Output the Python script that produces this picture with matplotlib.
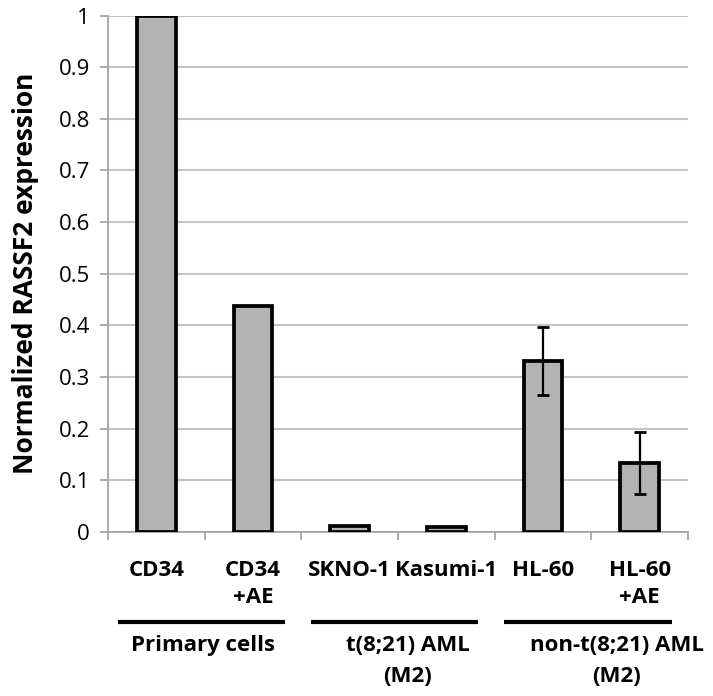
import numpy as np
import matplotlib.pyplot as plt
import matplotlib.transforms as mtransforms

# values
categories = ["CD34", "CD34\n+AE", "SKNO-1", "Kasumi-1", "HL-60", "HL-60\n+AE"]
expression = [1.0, 0.438, 0.012, 0.009, 0.331, 0.134]
errors = [0, 0, 0, 0, 0.066, 0.06]
has_err = [False, False, False, False, True, True]

groups = ["Primary cells", "t(8;21) AML\n(M2)", "non-t(8;21) AML\n(M2)"]
group_members = [(0, 1), (2, 3), (4, 5)]

yticks = [0, 0.1, 0.2, 0.3, 0.4, 0.5, 0.6, 0.7, 0.8, 0.9, 1]
ytick_labels = ["0", "0.1", "0.2", "0.3", "0.4", "0.5", "0.6", "0.7", "0.8", "0.9", "1"]

plt.rcParams['font.family'] = ['Open Sans', 'DejaVu Sans']

fig = plt.figure(figsize=(7.13, 6.96), dpi=100)
ax = fig.add_axes([0.1515, 0.2356, 0.8135, 0.7421])

x = np.arange(len(categories))
ax.bar(x, expression, width=0.4, color="#b3b3b3", edgecolor="black", linewidth=2.7, zorder=3)

err_x = [xi for xi, h in zip(x, has_err) if h]
err_y = [v for v, h in zip(expression, has_err) if h]
err_v = [e for e, h in zip(errors, has_err) if h]
ax.errorbar(err_x, err_y, yerr=err_v, fmt="none", ecolor="black", elinewidth=1.6,
            capsize=4, capthick=2, zorder=4)

ax.set_xlim(-0.5, len(categories) - 0.5)
ax.set_ylim(0, 1)
ax.set_yticks(yticks)
ax.set_yticklabels(ytick_labels, fontsize=16)
ax.yaxis.grid(True, color="#c4c4c4", linewidth=1.5, zorder=0)
ax.tick_params(axis="y", length=6, color="#a0a0a0", width=1.2, pad=7)

# category labels on major ticks, tick marks at category boundaries
ax.set_xticks(x)
ax.set_xticklabels(categories, fontsize=16, fontweight="bold", linespacing=1.4)
ax.tick_params(axis="x", which="major", length=0, pad=20)
ax.set_xticks(np.arange(len(categories) + 1) - 0.5, minor=True)
ax.tick_params(axis="x", which="minor", length=6, color="#a0a0a0", width=1.2)

for side in ["top", "right"]:
    ax.spines[side].set_visible(False)
for side in ["left", "bottom"]:
    ax.spines[side].set_color("#a0a0a0")
    ax.spines[side].set_linewidth(1.2)

ax.set_ylabel("Normalized RASSF2 expression", fontsize=19, fontweight="bold", labelpad=14)

# group brackets below the category labels
trans = mtransforms.blended_transform_factory(ax.transData, ax.transAxes)
label_shift = [-0.02, 0.1, 0.26]
for name, (a, b), dx in zip(groups, group_members, label_shift):
    ax.plot([a - 0.4, b + 0.33], [-0.174, -0.174], transform=trans, color="black",
            linewidth=3, clip_on=False, solid_capstyle="butt")
    ax.text((a + b) / 2 + dx, -0.199, name, transform=trans, ha="center", va="top",
            fontsize=16, fontweight="bold", linespacing=1.65)

fig.savefig("out.png", dpi=100)
